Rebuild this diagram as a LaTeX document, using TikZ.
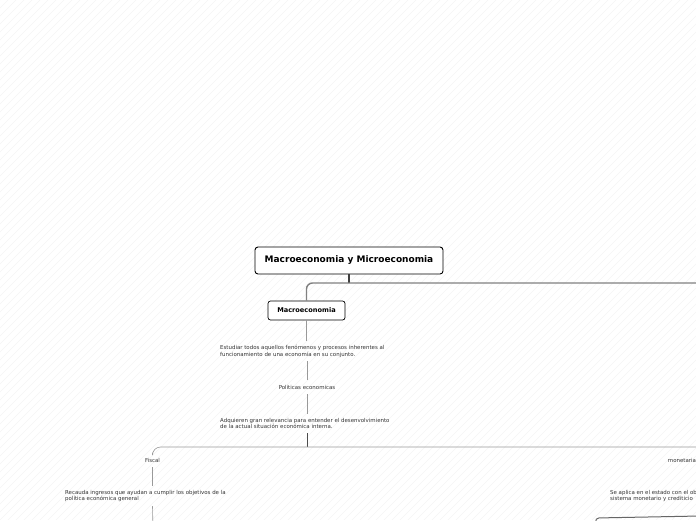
\documentclass[tikz,border=0pt]{standalone}
\usepackage{fontspec}
\setmainfont{DejaVu Sans}
\usetikzlibrary{positioning}

\tikzset{
  topic/.style={draw=black, line width=0.9pt, rounded corners=3pt, fill=white,
    font=\bfseries\fontsize{9}{10}\selectfont, minimum width=188pt, minimum height=27pt, inner sep=0pt},
  subtopic/.style={draw=black, line width=0.7pt, rounded corners=2.5pt, fill=white,
    font=\bfseries\fontsize{6.6}{8}\selectfont, minimum width=77pt, minimum height=19pt, inner sep=0pt},
  note/.style={font=\fontsize{5.45}{6.8}\selectfont, text=black!80, align=left,
    inner xsep=0pt, inner ysep=4pt, anchor=west},
  leaf/.style={font=\fontsize{5.45}{6.8}\selectfont, text=black!80, inner xsep=0pt, inner ysep=5pt},
  link/.style={draw=black!40, line width=0.6pt},
  trunk/.style={draw=black!50, line width=1.4pt},
  hatch/.style={draw=black!7, line width=0.3pt},
}

\begin{document}
\begin{tikzpicture}[x=1pt, y=-1pt]
    \useasboundingbox (0,0) rectangle (696,520);
    \clip (0,0) rectangle (696,520);
    % fondo rayado
    \fill[white] (0,0) rectangle (696,520);
    \foreach \k in {-520,-512,...,696}
        \draw[hatch] (\k,520) -- (\k+520,0);

    % nodos
    \node[topic] (root) at (349,260.5) {Macroeconomia y Microeconomia};
    \node[subtopic] (macro) at (306.5,310.5) {Macroeconomia};
    \node[note] (est) at (220,351) {Estudiar todos aquellos fenómenos y procesos inherentes al\\funcionamiento de una economía en su conjunto.};
    \node[leaf] (pol) at (307,387) {Politicas economicas};
    \node[note] (adq) at (220,423.5) {Adquieren gran relevancia para entender el desenvolvimiento\\de la actual situación económica interna.};
    \node[leaf] (fiscal) at (152.5,460) {Fiscal};
    \node[leaf] (monet) at (682,460) {monetaria};
    \node[note] (rec) at (65,496) {Recauda ingresos que ayudan a cumplir los objetivos de la\\política económica general};
    \node[note] (seap) at (610,496) {Se aplica en el estado con el ob\\sistema monetario y crediticio};

    % puntos auxiliares
    \coordinate (j1) at (349,283);
    \coordinate (r1) at (700,283);
    \coordinate (j2) at (307,447);
    \coordinate (r2) at (706,475);
    \coordinate (f1) at (153,530);
    \coordinate (b1) at (597,530);
    \coordinate (b2) at (700,516);

    % conectores
    \draw[draw=black!75, line width=1.3pt] (root.south) -- (j1);
    \draw[trunk, rounded corners=6pt] (r1) -| (macro.north);
    \draw[link] (macro.south) -- (macro.south |- est.north);
    \draw[link] (pol.north |- est.south) -- (pol.north);
    \draw[link] (pol.south) -- (pol.south |- adq.north);
    \draw[draw=black!70, line width=1pt] (pol.south |- adq.south) -- (j2);
    \draw[link, rounded corners=8pt] (fiscal.north) |- (j2) -| (r2);
    \draw[link] (fiscal.south) -- (fiscal.south |- rec.north);
    \draw[link] (fiscal.south |- rec.south) -- (f1);
    \draw[draw=black!60, line width=1pt, rounded corners=4pt] (b2) -- (595,518) -- (b1);
\end{tikzpicture}
\end{document}
